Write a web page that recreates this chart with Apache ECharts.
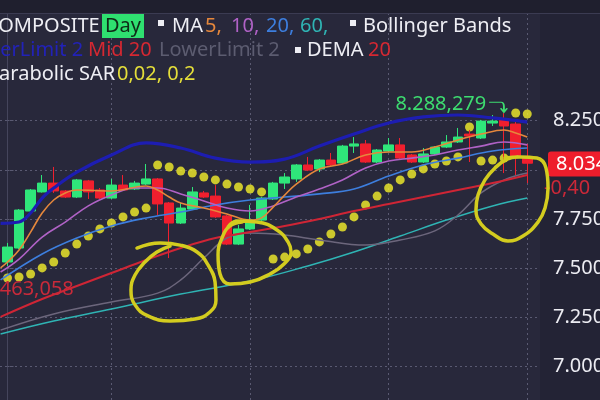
<!DOCTYPE html>
<html>
<head>
<meta charset="utf-8">
<script src="https://cdn.jsdelivr.net/npm/echarts@6/dist/echarts.min.js"></script>
<style>
  html, body { margin: 0; padding: 0; background: #232335; }
  #chart { width: 600px; height: 400px; }
</style>
</head>
<body>
<div id="chart"></div>
<script>
// Daily candles, session index 0..45 (the last session is the current one)
const opens  = [7.532,7.603,7.791,7.888,7.933,7.893,7.862,7.944,7.898,7.857,
                7.923,7.903,7.928,7.954,7.832,7.730,7.801,7.883,7.867,7.766,
                7.623,7.700,7.745,7.852,7.933,7.954,8.025,8.005,8.050,8.035,
                8.121,8.132,8.040,8.096,8.127,8.076,8.040,8.081,8.116,8.142,
                8.182,8.162,8.238,8.259,8.233,8.066];
const closes = [7.608,7.796,7.898,7.933,7.893,7.862,7.949,7.888,7.857,7.923,
                7.898,7.933,7.954,7.827,7.730,7.806,7.888,7.862,7.761,7.623,
                7.700,7.745,7.857,7.933,7.964,8.025,7.999,8.050,8.025,8.121,
                8.132,8.040,8.101,8.127,8.060,8.040,8.081,8.116,8.142,8.167,
                8.172,8.248,8.248,8.223,8.066,8.034];
const lows   = [7.512,7.598,7.789,7.885,7.883,7.857,7.857,7.852,7.852,7.852,
                7.893,7.898,7.923,7.771,7.552,7.725,7.796,7.857,7.756,7.618,
                7.618,7.695,7.740,7.847,7.903,7.939,7.994,7.989,8.020,8.030,
                8.086,8.035,8.035,8.091,8.055,8.035,8.035,8.076,8.111,8.137,
                8.040,8.157,8.223,7.984,7.974,7.933];
const highs  = [7.629,7.801,7.903,7.974,8.015,7.898,7.954,7.949,7.908,7.954,
                7.974,7.944,8.030,7.959,7.837,7.832,7.913,7.893,7.923,7.771,
                7.720,7.822,7.862,7.939,7.984,8.030,8.066,8.055,8.086,8.127,
                8.167,8.152,8.106,8.162,8.162,8.081,8.111,8.121,8.177,8.213,
                8.203,8.254,8.279,8.288279,8.248,8.132];

// Parabolic SAR (0,02 / 0,2), one dot per session
const sar = [7.451,7.456,7.471,7.502,7.532,7.578,7.623,7.664,7.700,7.730,
             7.761,7.786,7.806,8.025,8.015,7.994,7.984,7.964,7.949,7.928,
             7.913,7.903,7.888,7.547,7.557,7.573,7.598,7.634,7.674,7.710,
             7.761,7.822,7.867,7.908,7.949,7.979,8.005,8.030,8.045,8.066,
             8.218,8.045,8.050,8.060,8.289,8.284];

// Indicator lines as [session, value]
const ma5  = [[-0.6,7.502],[0,7.532],[1,7.593],[2,7.684],[3,7.781],[4,7.847],[5,7.883],[6,7.898],
              [9,7.893],[12,7.918],[13,7.898],[14,7.862],[15,7.832],[17,7.806],[19,7.776],[21,7.745],
              [22,7.756],[23,7.811],[24,7.872],[25,7.928],[27,8.005],[29,8.030],[31,8.076],[33,8.091],
              [35,8.091],[37,8.116],[39,8.152],[41,8.182],[43,8.203],[44,8.188],[45,8.167]];
const ma10 = [[-0.6,7.481],[1,7.547],[3,7.659],[5,7.735],[7,7.817],[9,7.872],[11,7.908],[13,7.908],
              [15,7.878],[17,7.842],[19,7.806],[21,7.791],[23,7.817],[25,7.862],[27,7.903],[29,7.949],
              [31,8.010],[33,8.045],[35,8.060],[37,8.076],[39,8.101],[41,8.121],[43,8.142],[45,8.127]];
const ma20 = [[-0.6,7.441],[3,7.573],[6,7.654],[9,7.715],[12,7.756],[15,7.786],[18,7.822],[21,7.847],
              [24,7.862],[27,7.878],[30,7.903],[33,7.969],[36,8.025],[39,8.060],[42,8.096],[45,8.111]];
const ma60 = [[-0.6,7.166],[4,7.232],[9,7.293],[15,7.369],[21,7.435],[26,7.512],[30,7.583],[34,7.664],
              [38,7.745],[42,7.817],[45,7.857]];
const bbUpper = [[-0.6,7.728],[1,7.735],[2,7.781],[3,7.857],[4,7.908],[6,7.989],[9,8.076],[12,8.137],
                 [15,8.111],[18,8.060],[21,8.040],[24,8.055],[27,8.121],[30,8.182],[33,8.238],[36,8.269],
                 [39,8.279],[42,8.264],[45,8.243]];
const bbLower = [[-0.6,7.186],[4,7.268],[9,7.329],[13,7.374],[15,7.441],[17,7.552],[19,7.654],[21,7.679],
                 [24,7.669],[27,7.644],[31,7.618],[34,7.644],[37,7.690],[39,7.771],[41,7.883],[43,7.949],
                 [45,7.984]];
const midLine = [[-0.6,7.253],[3,7.344],[6,7.410],[9,7.476],[12,7.542],[15,7.603],[18,7.654],[21,7.684],
                 [24,7.715],[27,7.751],[30,7.791],[33,7.827],[36,7.862],[39,7.898],[42,7.933],[45,7.974]];

// Hand-drawn highlight loops, traced in chart coordinates
const loopA = [[11.21,7.603],[13.21,7.629],[14.94,7.618],[16.41,7.583],[17.36,7.517],[17.97,7.430],
               [18.05,7.339],[17.53,7.278],[16.23,7.242],[14.07,7.232],[12.16,7.258],[11.04,7.314],
               [10.69,7.390],[11.04,7.466],[11.90,7.532],[12.94,7.583],[14.07,7.613]];
const loopB = [[19.09,7.710],[19.87,7.740],[21.6,7.735],[23.33,7.695],[24.29,7.634],[24.55,7.583],
               [23.94,7.522],[22.73,7.471],[21.0,7.430],[19.26,7.420],[18.4,7.471],[18.23,7.568],
               [18.57,7.654],[19.26,7.715],[20.3,7.735]];
const loopC = [[43.07,8.060],[44.37,8.066],[45.84,8.060],[46.62,8.010],[46.8,7.908],[46.54,7.806],
               [45.93,7.735],[44.63,7.664],[43.33,7.639],[42.03,7.674],[41.0,7.725],[40.56,7.796],
               [40.74,7.872],[41.34,7.949],[42.21,8.010],[43.25,8.055],[44.2,8.066]];

// Axis ticks
const yTicks = [7.0, 7.25, 7.5, 7.75, 8.0, 8.25];
const yTickLabels = [7.0, 7.25, 7.5, 7.75, 8.25];   // 8.000 sits under the price tag
const xGuides = [9, 21, 33, 45];                      // vertical guides every 12 sessions

const periodLow = 7.463058;
const periodLowText = '7.463,058';
const changeText = '-0,40';

const FONT = '"Noto Sans", sans-serif';
const UP = '#2fe67a', DOWN = '#f01f2e';
const last = closes.length - 1;
const hiIdx = highs.indexOf(Math.max(...highs));

// Shared scale: session axis and price axis
const X_MIN = -0.6494, X_STEP_PX = 11.55, Y_MIN = 6.83079, Y_MAX = 8.79726;
const X_MAX_PLOT = X_MIN + 540 / X_STEP_PX;
const X_MAX_FULL = X_MIN + 600 / X_STEP_PX;

const candleData = opens.map((o, i) => [i, o, closes[i], lows[i], highs[i]]);
const sarData = sar.map((v, i) => [i, v]);

function fmtPrice(v) {
  const s = v.toFixed(6);
  return s.slice(0, 5) + ',' + s.slice(5);
}
function line(name, data, color, width) {
  return {
    name, type: 'line', data, smooth: 0.4, showSymbol: false, silent: true,
    lineStyle: { color, width }
  };
}
function loop(data) {
  // drawn on the full-width overlay grid so the strokes can cross the price scale
  return {
    type: 'line', data, xAxisIndex: 1, yAxisIndex: 1,
    smooth: 0.45, showSymbol: false, silent: true, z: 20,
    lineStyle: { color: '#d3cc1f', width: 3.5, cap: 'round', join: 'round' }
  };
}

const chart = echarts.init(document.getElementById('chart'), null, { renderer: 'canvas' });

chart.setOption({
  animation: false,
  backgroundColor: '#232335',
  grid: [
    { left: 0, right: 60, top: 13, bottom: 0, show: true, backgroundColor: '#28283b', borderWidth: 0,
      containLabel: false, outerBoundsMode: 'none' },
    { left: 0, right: 0, top: 13, bottom: 0, show: false, containLabel: false, outerBoundsMode: 'none' }
  ],
  xAxis: [
    {
      type: 'value', gridIndex: 0, min: X_MIN, max: X_MAX_PLOT,
      axisLine: { show: false }, axisLabel: { show: false },
      axisTick: { show: false, customValues: xGuides },
      splitLine: { show: true, lineStyle: { color: '#5a5a72', type: [2, 3], width: 1 } }
    },
    { type: 'value', gridIndex: 1, min: X_MIN, max: X_MAX_FULL, show: false }
  ],
  yAxis: [
    {
      type: 'value', gridIndex: 0, position: 'right', min: Y_MIN, max: Y_MAX,
      axisLine: { show: true, lineStyle: { color: '#45455c', width: 1 } },
      axisTick: { show: true, customValues: yTicks, length: 8, lineStyle: { color: '#5a5a72', type: [2, 2] } },
      axisLabel: {
        customValues: yTickLabels, margin: 13, color: '#ececf2', fontSize: 20, fontFamily: FONT,
        formatter: v => v.toFixed(3)
      },
      splitLine: { show: true, lineStyle: { color: '#5a5a72', type: [2, 3], width: 1 } }
    },
    { type: 'value', gridIndex: 1, min: Y_MIN, max: Y_MAX, show: false }
  ],
  series: [
    line('MA60', ma60, '#2fb4b4', 1.5),
    line('LowerLimit', bbLower, '#6c667c', 1.5),
    line('Mid', midLine, '#cf2535', 2),
    line('MA20', ma20, '#3d7ede', 1.6),
    line('MA10', ma10, '#b062c6', 1.6),
    line('MA5', ma5, '#e5873c', 1.6),
    line('UpperLimit', bbUpper, '#1d1db2', 3.2),
    {
      name: 'SAR', type: 'scatter', data: sarData, symbolSize: 9, silent: true,
      itemStyle: { color: '#f5f02a' }
    },
    {
      name: 'COMPOSITE', type: 'candlestick', data: candleData, barWidth: 10,
      itemStyle: { color: UP, color0: DOWN, borderColor: UP, borderColor0: DOWN, borderWidth: 1 },
      markPoint: {
        silent: true,
        data: [{
          coord: [hiIdx, highs[hiIdx]],
          symbol: 'path://M0,1 L13,1 Q16,1 16,5 L16,10 M12.5,6.5 L16,10 L19.5,6.5',
          symbolSize: [18, 10], symbolOffset: [-6, -6],
          itemStyle: { color: 'rgba(0,0,0,0)', borderColor: '#3ddc70', borderWidth: 1.4 },
          label: {
            show: true, position: 'left', distance: 2, offset: [0, -3],
            formatter: fmtPrice(highs[hiIdx]),
            color: '#3ddc70', fontSize: 20, fontFamily: FONT
          }
        }]
      },
      markLine: {
        silent: true, symbol: ['none', 'none'],
        lineStyle: { color: 'rgba(0,0,0,0)', width: 0 },
        data: [
          {
            yAxis: closes[last],
            label: {
              show: true, position: 'end', distance: 8,
              formatter: closes[last].toFixed(3),
              color: '#ffffff', backgroundColor: '#ee1d2c', borderRadius: 3,
              padding: [3, 8, 2, 8], fontSize: 20, fontFamily: FONT
            }
          },
          {
            yAxis: closes[last],
            label: {
              show: true, position: 'end', distance: 4, offset: [0, 24],
              formatter: changeText, color: '#cc2838', fontSize: 20, fontFamily: FONT
            }
          }
        ]
      }
    },
    loop(loopA),
    loop(loopB),
    loop(loopC)
  ]
});

// Header legend rows and the period-low note
function txt(x, y, text, fill) {
  return { type: 'text', x, y, z: 50, silent: true,
           style: { text, fill, font: '20px "Noto Sans"', verticalAlign: 'middle' } };
}
function box(x, y, w, h, fill) {
  return { type: 'rect', z: 50, silent: true, shape: { x, y, width: w, height: h }, style: { fill } };
}
const lowY = chart.convertToPixel({ yAxisIndex: 0 }, periodLow);

chart.setOption({
  graphic: [
    box(0, 0, 600, 13, '#1f1f2e'),
    { type: 'line', z: 50, silent: true, shape: { x1: 0, y1: 13.5, x2: 600, y2: 13.5 },
      style: { stroke: '#3b3b52', lineWidth: 1 } },
    txt(-14, 26, 'COMPOSITE', '#eeeef4'),
    box(102, 14, 42, 24, '#2fe070'),
    txt(105, 26, 'Day', '#0f2a17'),
    box(158, 20, 6, 6, '#eeeef4'),
    txt(172, 26, 'MA', '#eeeef4'),
    txt(205, 26, '5,', '#e5873c'),
    txt(231, 26, '10,', '#b062c6'),
    txt(266, 26, '20,', '#3d7ede'),
    txt(300, 26, '60,', '#2fb4b4'),
    box(350, 20, 6, 6, '#eeeef4'),
    txt(363, 26, 'Bollinger Bands', '#eeeef4'),

    txt(-39, 50, 'UpperLimit 2', '#2222b8'),
    txt(88, 50, 'Mid 20', '#d52832'),
    txt(159, 50, 'LowerLimit 2', '#5c5c70'),
    box(295, 47, 6, 6, '#eeeef4'),
    txt(307, 50, 'DEMA', '#eeeef4'),
    txt(368, 50, '20', '#d52832'),

    txt(-13, 74, 'Parabolic SAR', '#eeeef4'),
    txt(117, 74, '0,02, 0,2', '#e4de3a'),

    txt(-17, lowY + 13.5, periodLowText, '#c82a3a')
  ]
});
</script>
</body>
</html>
